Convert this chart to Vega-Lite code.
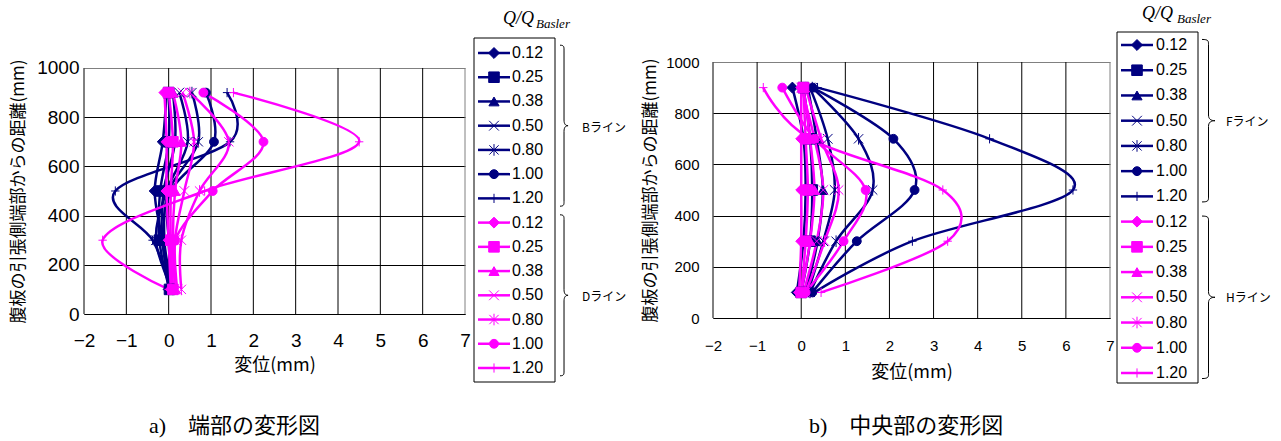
{
  "$schema": "https://vega.github.io/schema/vega-lite/v6.json",
  "autosize": {"type": "none"},
  "padding": {"left": 84, "top": 0, "right": 1197, "bottom": 441},
  "background": "white",
  "bounds": "flush",
  "spacing": 0,
  "config": {"view": {"stroke": null}, "font": "Liberation Sans"},
  "datasets": {
    "end": [
      {"line": "B", "q": "0.12", "y": 100, "x": 0.0}, {"line": "B", "q": "0.12", "y": 300, "x": -0.15}, {"line": "B", "q": "0.12", "y": 500, "x": -0.33}, {"line": "B", "q": "0.12", "y": 700, "x": -0.14}, {"line": "B", "q": "0.12", "y": 900, "x": -0.05},
      {"line": "B", "q": "0.25", "y": 100, "x": 0.02}, {"line": "B", "q": "0.25", "y": 300, "x": -0.22}, {"line": "B", "q": "0.25", "y": 500, "x": -0.2}, {"line": "B", "q": "0.25", "y": 700, "x": 0.0}, {"line": "B", "q": "0.25", "y": 900, "x": 0.0},
      {"line": "B", "q": "0.38", "y": 100, "x": 0.05}, {"line": "B", "q": "0.38", "y": 300, "x": -0.15}, {"line": "B", "q": "0.38", "y": 500, "x": -0.12}, {"line": "B", "q": "0.38", "y": 700, "x": 0.15}, {"line": "B", "q": "0.38", "y": 900, "x": 0.1},
      {"line": "B", "q": "0.50", "y": 100, "x": 0.08}, {"line": "B", "q": "0.50", "y": 300, "x": -0.3}, {"line": "B", "q": "0.50", "y": 500, "x": -0.05}, {"line": "B", "q": "0.50", "y": 700, "x": 0.45}, {"line": "B", "q": "0.50", "y": 900, "x": 0.25},
      {"line": "B", "q": "0.80", "y": 100, "x": 0.1}, {"line": "B", "q": "0.80", "y": 300, "x": -0.1}, {"line": "B", "q": "0.80", "y": 500, "x": 0.0}, {"line": "B", "q": "0.80", "y": 700, "x": 0.7}, {"line": "B", "q": "0.80", "y": 900, "x": 0.55},
      {"line": "B", "q": "1.00", "y": 100, "x": 0.1}, {"line": "B", "q": "1.00", "y": 300, "x": 0.0}, {"line": "B", "q": "1.00", "y": 500, "x": 0.05}, {"line": "B", "q": "1.00", "y": 700, "x": 1.07}, {"line": "B", "q": "1.00", "y": 900, "x": 0.88},
      {"line": "B", "q": "1.20", "y": 100, "x": 0.05}, {"line": "B", "q": "1.20", "y": 300, "x": -0.38}, {"line": "B", "q": "1.20", "y": 500, "x": -1.26}, {"line": "B", "q": "1.20", "y": 700, "x": 1.45}, {"line": "B", "q": "1.20", "y": 900, "x": 1.38},
      {"line": "D", "q": "0.12", "y": 100, "x": 0.05}, {"line": "D", "q": "0.12", "y": 300, "x": 0.0}, {"line": "D", "q": "0.12", "y": 500, "x": -0.05}, {"line": "D", "q": "0.12", "y": 700, "x": -0.05}, {"line": "D", "q": "0.12", "y": 900, "x": -0.1},
      {"line": "D", "q": "0.25", "y": 100, "x": 0.1}, {"line": "D", "q": "0.25", "y": 300, "x": 0.05}, {"line": "D", "q": "0.25", "y": 500, "x": 0.05}, {"line": "D", "q": "0.25", "y": 700, "x": 0.1}, {"line": "D", "q": "0.25", "y": 900, "x": 0.0},
      {"line": "D", "q": "0.38", "y": 100, "x": 0.15}, {"line": "D", "q": "0.38", "y": 300, "x": 0.1}, {"line": "D", "q": "0.38", "y": 500, "x": 0.15}, {"line": "D", "q": "0.38", "y": 700, "x": 0.3}, {"line": "D", "q": "0.38", "y": 900, "x": 0.1},
      {"line": "D", "q": "0.50", "y": 100, "x": 0.2}, {"line": "D", "q": "0.50", "y": 300, "x": 0.15}, {"line": "D", "q": "0.50", "y": 500, "x": 0.37}, {"line": "D", "q": "0.50", "y": 700, "x": 0.6}, {"line": "D", "q": "0.50", "y": 900, "x": 0.33},
      {"line": "D", "q": "0.80", "y": 100, "x": 0.3}, {"line": "D", "q": "0.80", "y": 300, "x": 0.3}, {"line": "D", "q": "0.80", "y": 500, "x": 0.73}, {"line": "D", "q": "0.80", "y": 700, "x": 1.42}, {"line": "D", "q": "0.80", "y": 900, "x": 0.5},
      {"line": "D", "q": "1.00", "y": 100, "x": 0.1}, {"line": "D", "q": "1.00", "y": 300, "x": 0.15}, {"line": "D", "q": "1.00", "y": 500, "x": 1.04}, {"line": "D", "q": "1.00", "y": 700, "x": 2.24}, {"line": "D", "q": "1.00", "y": 900, "x": 0.82},
      {"line": "D", "q": "1.20", "y": 100, "x": 0.0}, {"line": "D", "q": "1.20", "y": 300, "x": -1.56}, {"line": "D", "q": "1.20", "y": 500, "x": 0.85}, {"line": "D", "q": "1.20", "y": 700, "x": 4.5}, {"line": "D", "q": "1.20", "y": 900, "x": 1.53}
    ],
    "mid": [
      {"line": "F", "q": "0.12", "y": 100, "x": -0.1}, {"line": "F", "q": "0.12", "y": 300, "x": 0.05}, {"line": "F", "q": "0.12", "y": 500, "x": 0.1}, {"line": "F", "q": "0.12", "y": 700, "x": 0.05}, {"line": "F", "q": "0.12", "y": 900, "x": -0.2},
      {"line": "F", "q": "0.25", "y": 100, "x": 0.0}, {"line": "F", "q": "0.25", "y": 300, "x": 0.2}, {"line": "F", "q": "0.25", "y": 500, "x": 0.25}, {"line": "F", "q": "0.25", "y": 700, "x": 0.2}, {"line": "F", "q": "0.25", "y": 900, "x": 0.05},
      {"line": "F", "q": "0.38", "y": 100, "x": 0.1}, {"line": "F", "q": "0.38", "y": 300, "x": 0.37}, {"line": "F", "q": "0.38", "y": 500, "x": 0.49}, {"line": "F", "q": "0.38", "y": 700, "x": 0.35}, {"line": "F", "q": "0.38", "y": 900, "x": 0.15},
      {"line": "F", "q": "0.50", "y": 100, "x": 0.15}, {"line": "F", "q": "0.50", "y": 300, "x": 0.5}, {"line": "F", "q": "0.50", "y": 500, "x": 0.76}, {"line": "F", "q": "0.50", "y": 700, "x": 0.6}, {"line": "F", "q": "0.50", "y": 900, "x": 0.2},
      {"line": "F", "q": "0.80", "y": 100, "x": 0.2}, {"line": "F", "q": "0.80", "y": 300, "x": 0.79}, {"line": "F", "q": "0.80", "y": 500, "x": 1.62}, {"line": "F", "q": "0.80", "y": 700, "x": 1.3}, {"line": "F", "q": "0.80", "y": 900, "x": 0.25},
      {"line": "F", "q": "1.00", "y": 100, "x": 0.25}, {"line": "F", "q": "1.00", "y": 300, "x": 1.26}, {"line": "F", "q": "1.00", "y": 500, "x": 2.57}, {"line": "F", "q": "1.00", "y": 700, "x": 2.09}, {"line": "F", "q": "1.00", "y": 900, "x": 0.26},
      {"line": "F", "q": "1.20", "y": 100, "x": 0.3}, {"line": "F", "q": "1.20", "y": 300, "x": 2.52}, {"line": "F", "q": "1.20", "y": 500, "x": 6.16}, {"line": "F", "q": "1.20", "y": 700, "x": 4.27}, {"line": "F", "q": "1.20", "y": 900, "x": 0.37},
      {"line": "H", "q": "0.12", "y": 100, "x": -0.05}, {"line": "H", "q": "0.12", "y": 300, "x": 0.0}, {"line": "H", "q": "0.12", "y": 500, "x": 0.0}, {"line": "H", "q": "0.12", "y": 700, "x": 0.0}, {"line": "H", "q": "0.12", "y": 900, "x": 0.0},
      {"line": "H", "q": "0.25", "y": 100, "x": 0.0}, {"line": "H", "q": "0.25", "y": 300, "x": 0.1}, {"line": "H", "q": "0.25", "y": 500, "x": 0.15}, {"line": "H", "q": "0.25", "y": 700, "x": 0.1}, {"line": "H", "q": "0.25", "y": 900, "x": 0.05},
      {"line": "H", "q": "0.38", "y": 100, "x": 0.0}, {"line": "H", "q": "0.38", "y": 300, "x": 0.2}, {"line": "H", "q": "0.38", "y": 500, "x": 0.3}, {"line": "H", "q": "0.38", "y": 700, "x": 0.2}, {"line": "H", "q": "0.38", "y": 900, "x": 0.05},
      {"line": "H", "q": "0.50", "y": 100, "x": 0.05}, {"line": "H", "q": "0.50", "y": 300, "x": 0.35}, {"line": "H", "q": "0.50", "y": 500, "x": 0.5}, {"line": "H", "q": "0.50", "y": 700, "x": 0.3}, {"line": "H", "q": "0.50", "y": 900, "x": 0.0},
      {"line": "H", "q": "0.80", "y": 100, "x": 0.1}, {"line": "H", "q": "0.80", "y": 300, "x": 0.53}, {"line": "H", "q": "0.80", "y": 500, "x": 0.85}, {"line": "H", "q": "0.80", "y": 700, "x": 0.45}, {"line": "H", "q": "0.80", "y": 900, "x": 0.1},
      {"line": "H", "q": "1.00", "y": 100, "x": 0.1}, {"line": "H", "q": "1.00", "y": 300, "x": 0.96}, {"line": "H", "q": "1.00", "y": 500, "x": 1.46}, {"line": "H", "q": "1.00", "y": 700, "x": 0.3}, {"line": "H", "q": "1.00", "y": 900, "x": -0.43},
      {"line": "H", "q": "1.20", "y": 100, "x": 0.45}, {"line": "H", "q": "1.20", "y": 300, "x": 3.32}, {"line": "H", "q": "1.20", "y": 500, "x": 3.21}, {"line": "H", "q": "1.20", "y": 700, "x": 0.2}, {"line": "H", "q": "1.20", "y": 900, "x": -0.86}
    ],
    "legend_end": [
      {"line": "B", "q": "0.12", "key": "B 0.12", "group": "Bライン"}, {"line": "B", "q": "0.25", "key": "B 0.25", "group": "Bライン"},
      {"line": "B", "q": "0.38", "key": "B 0.38", "group": "Bライン"}, {"line": "B", "q": "0.50", "key": "B 0.50", "group": "Bライン"},
      {"line": "B", "q": "0.80", "key": "B 0.80", "group": "Bライン"}, {"line": "B", "q": "1.00", "key": "B 1.00", "group": "Bライン"},
      {"line": "B", "q": "1.20", "key": "B 1.20", "group": "Bライン"},
      {"line": "D", "q": "0.12", "key": "D 0.12", "group": "Dライン"}, {"line": "D", "q": "0.25", "key": "D 0.25", "group": "Dライン"},
      {"line": "D", "q": "0.38", "key": "D 0.38", "group": "Dライン"}, {"line": "D", "q": "0.50", "key": "D 0.50", "group": "Dライン"},
      {"line": "D", "q": "0.80", "key": "D 0.80", "group": "Dライン"}, {"line": "D", "q": "1.00", "key": "D 1.00", "group": "Dライン"},
      {"line": "D", "q": "1.20", "key": "D 1.20", "group": "Dライン"}
    ],
    "legend_mid": [
      {"line": "F", "q": "0.12", "key": "F 0.12", "group": "Fライン"}, {"line": "F", "q": "0.25", "key": "F 0.25", "group": "Fライン"},
      {"line": "F", "q": "0.38", "key": "F 0.38", "group": "Fライン"}, {"line": "F", "q": "0.50", "key": "F 0.50", "group": "Fライン"},
      {"line": "F", "q": "0.80", "key": "F 0.80", "group": "Fライン"}, {"line": "F", "q": "1.00", "key": "F 1.00", "group": "Fライン"},
      {"line": "F", "q": "1.20", "key": "F 1.20", "group": "Fライン"},
      {"line": "H", "q": "0.12", "key": "H 0.12", "group": "Hライン"}, {"line": "H", "q": "0.25", "key": "H 0.25", "group": "Hライン"},
      {"line": "H", "q": "0.38", "key": "H 0.38", "group": "Hライン"}, {"line": "H", "q": "0.50", "key": "H 0.50", "group": "Hライン"},
      {"line": "H", "q": "0.80", "key": "H 0.80", "group": "Hライン"}, {"line": "H", "q": "1.00", "key": "H 1.00", "group": "Hライン"},
      {"line": "H", "q": "1.20", "key": "H 1.20", "group": "Hライン"}
    ]
  },
  "hconcat": [
    {
      "width": 381,
      "height": 314,
      "title": {"text": "a)　端部の変形図", "orient": "bottom", "anchor": "start", "frame": "group", "dx": 65, "offset": 42, "baseline": "top", "font": "Liberation Serif, Noto Sans CJK JP", "fontSize": 22, "fontWeight": "normal", "color": "#000000"},
      "layer": [
        {
          "data": {"values": [{"v": -2}, {"v": -1}, {"v": 0}, {"v": 1}, {"v": 2}, {"v": 3}, {"v": 4}, {"v": 5}, {"v": 6}, {"v": 7}]},
          "mark": {"type": "rule", "strokeWidth": 1},
          "encoding": {
            "x": {"field": "v", "type": "quantitative", "scale": {"domain": [-2, 7], "nice": false, "zero": false},
              "axis": {"values": [-2, -1, 0, 1, 2, 3, 4, 5, 6, 7], "format": "d", "grid": false, "ticks": false, "tickSize": 0, "domain": true, "domainColor": "#000000", "domainWidth": 1,
                "labelFont": "Liberation Sans", "labelFontSize": 19, "labelColor": "#000000", "labelPadding": 17, "labelFlush": false, "labelOverlap": false, "labelBound": false,
                "title": "変位(mm)", "titleFont": "Noto Sans CJK JP", "titleFontSize": 18, "titleFontWeight": "normal", "titleColor": "#000000", "titleY": 51, "titleBaseline": "middle"}},
            "y": {"datum": 0, "type": "quantitative", "scale": {"domain": [0, 1276.42], "nice": false, "zero": false},
              "axis": {"values": [0, 100, 200, 300, 400, 500, 600, 700, 800, 900, 1000], "format": "d", "grid": true,
                "gridColor": {"condition": {"test": "datum.value === 1000", "value": "#808080"}, "value": "#000000"}, "gridWidth": 1,
                "ticks": false, "tickSize": 0, "domain": false,
                "labelFont": "Liberation Sans", "labelFontSize": 19, "labelColor": "#000000", "labelPadding": 5, "labelFlush": false, "labelOverlap": false, "labelBound": false,
                "title": "腹板の引張側端部からの距離(mm)", "titleFont": "Noto Sans CJK JP", "titleFontSize": 17, "titleFontWeight": "normal", "titleColor": "#000000",
                "titleX": -66, "titleY": 191, "titleAngle": -90, "titleBaseline": "middle", "titleAlign": "center"}},
            "y2": {"datum": 1000},
            "color": {"condition": {"test": "datum.v === 7", "value": "#808080"}, "value": "#000000"}
          }
        },
        {
          "data": {"name": "end"},
          "mark": {"type": "line", "interpolate": "cardinal", "strokeWidth": 2.5},
          "encoding": {
            "x": {"field": "x", "type": "quantitative", "scale": {"domain": [-2, 7], "nice": false, "zero": false}},
            "y": {"field": "y", "type": "quantitative", "scale": {"domain": [0, 1276.42], "nice": false, "zero": false}},
            "detail": {"field": "q"},
            "stroke": {"field": "line", "type": "nominal", "scale": {"domain": ["B", "D"], "range": ["#000080", "#FF00FF"]}, "legend": null},
            "order": {"field": "y", "type": "quantitative"}
          }
        },
        {
          "data": {"name": "end"},
          "mark": {"type": "point", "filled": true, "strokeWidth": 1, "opacity": 1},
          "encoding": {
            "x": {"field": "x", "type": "quantitative", "scale": {"domain": [-2, 7], "nice": false, "zero": false}},
            "y": {"field": "y", "type": "quantitative", "scale": {"domain": [0, 1276.42], "nice": false, "zero": false}},
            "shape": {"field": "q", "type": "nominal", "scale": {"domain": ["0.12", "0.25", "0.38", "0.50", "0.80", "1.00", "1.20"], "range": ["diamond", "square", "triangle-up", "M-1,-1L1,1M-1,1L1,-1", "M-1,-1L1,1M-1,1L1,-1M0,-1.25L0,1.25", "circle", "M0,-1.1L0,1.1M-1,0L1,0"]}, "legend": null},
            "size": {"field": "q", "type": "ordinal", "scale": {"domain": ["0.12", "0.25", "0.38", "0.50", "0.80", "1.00", "1.20"], "range": [120, 70, 90, 64, 64, 100, 90]}, "legend": null},
            "fill": {"field": "line", "type": "nominal", "scale": {"domain": ["B", "D"], "range": ["#000080", "#FF00FF"]}, "legend": null},
            "stroke": {"field": "line", "type": "nominal", "scale": {"domain": ["B", "D"], "range": ["#000080", "#FF00FF"]}, "legend": null}
          }
        }
      ]
    },
    {
      "width": 248,
      "height": 441,
      "resolve": {"scale": {"y": "independent"}},
      "layer": [
        {
          "data": {"values": [{"item": "frame"}]},
          "mark": {"type": "rect", "fill": "white", "stroke": "#000000", "strokeWidth": 1},
          "encoding": {
            "x": {"datum": 9, "type": "quantitative", "scale": {"domain": [0, 248], "range": [0, 248], "nice": false, "zero": false}, "axis": null},
            "x2": {"datum": 90},
            "y": {"datum": 38, "type": "quantitative", "scale": {"domain": [0, 441], "range": [0, 441], "nice": false, "zero": false}, "axis": null},
            "y2": {"datum": 382}
          }
        },
        {
          "data": {"values": [{"t": "Q/Q"}]},
          "mark": {"type": "text", "font": "Liberation Serif", "fontStyle": "italic", "fontSize": 18, "align": "left", "baseline": "alphabetic", "color": "#000000"},
          "encoding": {
            "x": {"datum": 38, "type": "quantitative", "scale": {"domain": [0, 248], "range": [0, 248], "nice": false, "zero": false}, "axis": null},
            "y": {"datum": 24, "type": "quantitative", "scale": {"domain": [0, 441], "range": [0, 441], "nice": false, "zero": false}, "axis": null},
            "text": {"field": "t"}
          }
        },
        {
          "data": {"values": [{"t": "Basler"}]},
          "mark": {"type": "text", "font": "Liberation Serif", "fontStyle": "italic", "fontSize": 13, "align": "left", "baseline": "alphabetic", "color": "#000000"},
          "encoding": {
            "x": {"datum": 71, "type": "quantitative", "scale": {"domain": [0, 248], "range": [0, 248], "nice": false, "zero": false}, "axis": null},
            "y": {"datum": 28, "type": "quantitative", "scale": {"domain": [0, 441], "range": [0, 441], "nice": false, "zero": false}, "axis": null},
            "text": {"field": "t"}
          }
        },
        {
          "data": {"name": "legend_end"},
          "mark": {"type": "rule", "strokeWidth": 2.5},
          "encoding": {
            "x": {"datum": 13, "type": "quantitative", "scale": {"domain": [0, 248], "range": [0, 248], "nice": false, "zero": false}, "axis": null},
            "x2": {"datum": 45},
            "y": {"field": "key", "type": "nominal", "scale": {"type": "point", "domain": ["B 0.12", "B 0.25", "B 0.38", "B 0.50", "B 0.80", "B 1.00", "B 1.20", "D 0.12", "D 0.25", "D 0.38", "D 0.50", "D 0.80", "D 1.00", "D 1.20"], "range": [53, 368], "padding": 0}, "axis": null},
            "stroke": {"field": "line", "type": "nominal", "scale": {"domain": ["B", "D"], "range": ["#000080", "#FF00FF"]}, "legend": null}
          }
        },
        {
          "data": {"name": "legend_end"},
          "mark": {"type": "point", "filled": true, "strokeWidth": 1, "opacity": 1},
          "encoding": {
            "x": {"datum": 29, "type": "quantitative", "scale": {"domain": [0, 248], "range": [0, 248], "nice": false, "zero": false}, "axis": null},
            "y": {"field": "key", "type": "nominal", "scale": {"type": "point", "domain": ["B 0.12", "B 0.25", "B 0.38", "B 0.50", "B 0.80", "B 1.00", "B 1.20", "D 0.12", "D 0.25", "D 0.38", "D 0.50", "D 0.80", "D 1.00", "D 1.20"], "range": [53, 368], "padding": 0}, "axis": null},
            "shape": {"field": "q", "type": "nominal", "scale": {"domain": ["0.12", "0.25", "0.38", "0.50", "0.80", "1.00", "1.20"], "range": ["diamond", "square", "triangle-up", "M-1,-1L1,1M-1,1L1,-1", "M-1,-1L1,1M-1,1L1,-1M0,-1.25L0,1.25", "circle", "M0,-1.1L0,1.1M-1,0L1,0"]}, "legend": null},
            "size": {"field": "q", "type": "ordinal", "scale": {"domain": ["0.12", "0.25", "0.38", "0.50", "0.80", "1.00", "1.20"], "range": [120, 70, 90, 64, 64, 100, 90]}, "legend": null},
            "fill": {"field": "line", "type": "nominal", "scale": {"domain": ["B", "D"], "range": ["#000080", "#FF00FF"]}, "legend": null},
            "stroke": {"field": "line", "type": "nominal", "scale": {"domain": ["B", "D"], "range": ["#000080", "#FF00FF"]}, "legend": null}
          }
        },
        {
          "data": {"name": "legend_end"},
          "mark": {"type": "text", "font": "Liberation Sans", "fontSize": 16, "align": "left", "baseline": "middle", "color": "#000000"},
          "encoding": {
            "x": {"datum": 47, "type": "quantitative", "scale": {"domain": [0, 248], "range": [0, 248], "nice": false, "zero": false}, "axis": null},
            "y": {"field": "key", "type": "nominal", "scale": {"type": "point", "domain": ["B 0.12", "B 0.25", "B 0.38", "B 0.50", "B 0.80", "B 1.00", "B 1.20", "D 0.12", "D 0.25", "D 0.38", "D 0.50", "D 0.80", "D 1.00", "D 1.20"], "range": [53, 368], "padding": 0}, "axis": null},
            "text": {"field": "q"}
          }
        },
        {
          "data": {"name": "legend_end"},
          "transform": [{"filter": "datum.q === '0.50'"}],
          "mark": {"type": "point", "shape": "M0,-1C0.05,-1 0.05,-0.98 0.05,-0.94L0.05,-0.07C0.05,-0.02 0.07,0 0.1,0C0.07,0 0.05,0.02 0.05,0.07L0.05,0.94C0.05,0.98 0.05,1 0,1", "size": 25921, "filled": false, "stroke": "#000000", "strokeWidth": 1, "opacity": 1},
          "encoding": {
            "x": {"datum": 95, "type": "quantitative", "scale": {"domain": [0, 248], "range": [0, 248], "nice": false, "zero": false}, "axis": null},
            "y": {"field": "key", "type": "nominal", "scale": {"type": "point", "domain": ["B 0.12", "B 0.25", "B 0.38", "B 0.50", "B 0.80", "B 1.00", "B 1.20", "D 0.12", "D 0.25", "D 0.38", "D 0.50", "D 0.80", "D 1.00", "D 1.20"], "range": [53, 368], "padding": 0}, "axis": null}
          }
        },
        {
          "data": {"name": "legend_end"},
          "transform": [{"filter": "datum.q === '0.50'"}],
          "mark": {"type": "text", "font": "Noto Sans CJK JP", "fontSize": 12, "align": "left", "baseline": "middle", "color": "#000000", "dy": 2},
          "encoding": {
            "x": {"datum": 117, "type": "quantitative", "scale": {"domain": [0, 248], "range": [0, 248], "nice": false, "zero": false}, "axis": null},
            "y": {"field": "key", "type": "nominal", "scale": {"type": "point", "domain": ["B 0.12", "B 0.25", "B 0.38", "B 0.50", "B 0.80", "B 1.00", "B 1.20", "D 0.12", "D 0.25", "D 0.38", "D 0.50", "D 0.80", "D 1.00", "D 1.20"], "range": [53, 368], "padding": 0}, "axis": null},
            "text": {"field": "group"}
          }
        }
      ]
    },
    {
      "width": 397,
      "height": 318,
      "title": {"text": "b)　中央部の変形図", "orient": "bottom", "anchor": "start", "frame": "group", "dx": 96, "offset": 35, "baseline": "top", "font": "Liberation Serif, Noto Sans CJK JP", "fontSize": 22, "fontWeight": "normal", "color": "#000000"},
      "layer": [
        {
          "data": {"values": [{"v": -2}, {"v": -1}, {"v": 0}, {"v": 1}, {"v": 2}, {"v": 3}, {"v": 4}, {"v": 5}, {"v": 6}, {"v": 7}]},
          "mark": {"type": "rule", "strokeWidth": 1},
          "encoding": {
            "x": {"field": "v", "type": "quantitative", "scale": {"domain": [-2, 7], "nice": false, "zero": false},
              "axis": {"values": [-2, -1, 0, 1, 2, 3, 4, 5, 6, 7], "format": "d", "grid": false, "ticks": false, "tickSize": 0, "domain": true, "domainColor": "#000000", "domainWidth": 1,
                "labelFont": "Liberation Sans", "labelFontSize": 15, "labelColor": "#000000", "labelPadding": 20, "labelFlush": false, "labelOverlap": false, "labelBound": false,
                "title": "変位(mm)", "titleFont": "Noto Sans CJK JP", "titleFontSize": 18, "titleFontWeight": "normal", "titleColor": "#000000", "titleY": 54, "titleBaseline": "middle"}},
            "y": {"datum": 0, "type": "quantitative", "scale": {"domain": [0, 1242.19], "nice": false, "zero": false},
              "axis": {"values": [0, 100, 200, 300, 400, 500, 600, 700, 800, 900, 1000], "format": "d", "grid": true,
                "gridColor": {"condition": {"test": "datum.value === 1000", "value": "#808080"}, "value": "#000000"}, "gridWidth": 1,
                "ticks": false, "tickSize": 0, "domain": false,
                "labelFont": "Liberation Sans", "labelFontSize": 15, "labelColor": "#000000", "labelPadding": 14, "labelFlush": false, "labelOverlap": false, "labelBound": false,
                "title": "腹板の引張側端部からの距離(mm)", "titleFont": "Noto Sans CJK JP", "titleFontSize": 17, "titleFontWeight": "normal", "titleColor": "#000000",
                "titleX": -63, "titleY": 190, "titleAngle": -90, "titleBaseline": "middle", "titleAlign": "center"}},
            "y2": {"datum": 1000},
            "color": {"condition": {"test": "datum.v === 7", "value": "#808080"}, "value": "#000000"}
          }
        },
        {
          "data": {"name": "mid"},
          "mark": {"type": "line", "interpolate": "cardinal", "strokeWidth": 2.5},
          "encoding": {
            "x": {"field": "x", "type": "quantitative", "scale": {"domain": [-2, 7], "nice": false, "zero": false}},
            "y": {"field": "y", "type": "quantitative", "scale": {"domain": [0, 1242.19], "nice": false, "zero": false}},
            "detail": {"field": "q"},
            "stroke": {"field": "line", "type": "nominal", "scale": {"domain": ["F", "H"], "range": ["#000080", "#FF00FF"]}, "legend": null},
            "order": {"field": "y", "type": "quantitative"}
          }
        },
        {
          "data": {"name": "mid"},
          "mark": {"type": "point", "filled": true, "strokeWidth": 1, "opacity": 1},
          "encoding": {
            "x": {"field": "x", "type": "quantitative", "scale": {"domain": [-2, 7], "nice": false, "zero": false}},
            "y": {"field": "y", "type": "quantitative", "scale": {"domain": [0, 1242.19], "nice": false, "zero": false}},
            "shape": {"field": "q", "type": "nominal", "scale": {"domain": ["0.12", "0.25", "0.38", "0.50", "0.80", "1.00", "1.20"], "range": ["diamond", "square", "triangle-up", "M-1,-1L1,1M-1,1L1,-1", "M-1,-1L1,1M-1,1L1,-1M0,-1.25L0,1.25", "circle", "M0,-1.1L0,1.1M-1,0L1,0"]}, "legend": null},
            "size": {"field": "q", "type": "ordinal", "scale": {"domain": ["0.12", "0.25", "0.38", "0.50", "0.80", "1.00", "1.20"], "range": [120, 70, 90, 64, 64, 100, 90]}, "legend": null},
            "fill": {"field": "line", "type": "nominal", "scale": {"domain": ["F", "H"], "range": ["#000080", "#FF00FF"]}, "legend": null},
            "stroke": {"field": "line", "type": "nominal", "scale": {"domain": ["F", "H"], "range": ["#000080", "#FF00FF"]}, "legend": null}
          }
        }
      ]
    },
    {
      "width": 171,
      "height": 441,
      "resolve": {"scale": {"y": "independent"}},
      "layer": [
        {
          "data": {"values": [{"item": "frame"}]},
          "mark": {"type": "rect", "fill": "white", "stroke": "#000000", "strokeWidth": 1},
          "encoding": {
            "x": {"datum": 7, "type": "quantitative", "scale": {"domain": [0, 171], "range": [0, 171], "nice": false, "zero": false}, "axis": null},
            "x2": {"datum": 88},
            "y": {"datum": 32, "type": "quantitative", "scale": {"domain": [0, 441], "range": [0, 441], "nice": false, "zero": false}, "axis": null},
            "y2": {"datum": 383}
          }
        },
        {
          "data": {"values": [{"t": "Q/Q"}]},
          "mark": {"type": "text", "font": "Liberation Serif", "fontStyle": "italic", "fontSize": 18, "align": "left", "baseline": "alphabetic", "color": "#000000"},
          "encoding": {
            "x": {"datum": 32, "type": "quantitative", "scale": {"domain": [0, 171], "range": [0, 171], "nice": false, "zero": false}, "axis": null},
            "y": {"datum": 19, "type": "quantitative", "scale": {"domain": [0, 441], "range": [0, 441], "nice": false, "zero": false}, "axis": null},
            "text": {"field": "t"}
          }
        },
        {
          "data": {"values": [{"t": "Basler"}]},
          "mark": {"type": "text", "font": "Liberation Serif", "fontStyle": "italic", "fontSize": 13, "align": "left", "baseline": "alphabetic", "color": "#000000"},
          "encoding": {
            "x": {"datum": 67, "type": "quantitative", "scale": {"domain": [0, 171], "range": [0, 171], "nice": false, "zero": false}, "axis": null},
            "y": {"datum": 23, "type": "quantitative", "scale": {"domain": [0, 441], "range": [0, 441], "nice": false, "zero": false}, "axis": null},
            "text": {"field": "t"}
          }
        },
        {
          "data": {"name": "legend_mid"},
          "mark": {"type": "rule", "strokeWidth": 2.5},
          "encoding": {
            "x": {"datum": 11, "type": "quantitative", "scale": {"domain": [0, 171], "range": [0, 171], "nice": false, "zero": false}, "axis": null},
            "x2": {"datum": 43},
            "y": {"field": "key", "type": "nominal", "scale": {"type": "point", "domain": ["F 0.12", "F 0.25", "F 0.38", "F 0.50", "F 0.80", "F 1.00", "F 1.20", "H 0.12", "H 0.25", "H 0.38", "H 0.50", "H 0.80", "H 1.00", "H 1.20"], "range": [45, 373], "padding": 0}, "axis": null},
            "stroke": {"field": "line", "type": "nominal", "scale": {"domain": ["F", "H"], "range": ["#000080", "#FF00FF"]}, "legend": null}
          }
        },
        {
          "data": {"name": "legend_mid"},
          "mark": {"type": "point", "filled": true, "strokeWidth": 1, "opacity": 1},
          "encoding": {
            "x": {"datum": 27, "type": "quantitative", "scale": {"domain": [0, 171], "range": [0, 171], "nice": false, "zero": false}, "axis": null},
            "y": {"field": "key", "type": "nominal", "scale": {"type": "point", "domain": ["F 0.12", "F 0.25", "F 0.38", "F 0.50", "F 0.80", "F 1.00", "F 1.20", "H 0.12", "H 0.25", "H 0.38", "H 0.50", "H 0.80", "H 1.00", "H 1.20"], "range": [45, 373], "padding": 0}, "axis": null},
            "shape": {"field": "q", "type": "nominal", "scale": {"domain": ["0.12", "0.25", "0.38", "0.50", "0.80", "1.00", "1.20"], "range": ["diamond", "square", "triangle-up", "M-1,-1L1,1M-1,1L1,-1", "M-1,-1L1,1M-1,1L1,-1M0,-1.25L0,1.25", "circle", "M0,-1.1L0,1.1M-1,0L1,0"]}, "legend": null},
            "size": {"field": "q", "type": "ordinal", "scale": {"domain": ["0.12", "0.25", "0.38", "0.50", "0.80", "1.00", "1.20"], "range": [120, 70, 90, 64, 64, 100, 90]}, "legend": null},
            "fill": {"field": "line", "type": "nominal", "scale": {"domain": ["F", "H"], "range": ["#000080", "#FF00FF"]}, "legend": null},
            "stroke": {"field": "line", "type": "nominal", "scale": {"domain": ["F", "H"], "range": ["#000080", "#FF00FF"]}, "legend": null}
          }
        },
        {
          "data": {"name": "legend_mid"},
          "mark": {"type": "text", "font": "Liberation Sans", "fontSize": 16, "align": "left", "baseline": "middle", "color": "#000000"},
          "encoding": {
            "x": {"datum": 46, "type": "quantitative", "scale": {"domain": [0, 171], "range": [0, 171], "nice": false, "zero": false}, "axis": null},
            "y": {"field": "key", "type": "nominal", "scale": {"type": "point", "domain": ["F 0.12", "F 0.25", "F 0.38", "F 0.50", "F 0.80", "F 1.00", "F 1.20", "H 0.12", "H 0.25", "H 0.38", "H 0.50", "H 0.80", "H 1.00", "H 1.20"], "range": [45, 373], "padding": 0}, "axis": null},
            "text": {"field": "q"}
          }
        },
        {
          "data": {"name": "legend_mid"},
          "transform": [{"filter": "datum.q === '0.50'"}],
          "mark": {"type": "point", "shape": "M0,-1C0.08,-1 0.08,-0.98 0.08,-0.94L0.08,-0.07C0.08,-0.02 0.11,0 0.16,0C0.11,0 0.08,0.02 0.08,0.07L0.08,0.94C0.08,0.98 0.08,1 0,1", "size": 26406, "filled": false, "stroke": "#000000", "strokeWidth": 1, "opacity": 1},
          "encoding": {
            "x": {"datum": 92, "type": "quantitative", "scale": {"domain": [0, 171], "range": [0, 171], "nice": false, "zero": false}, "axis": null},
            "y": {"field": "key", "type": "nominal", "scale": {"type": "point", "domain": ["F 0.12", "F 0.25", "F 0.38", "F 0.50", "F 0.80", "F 1.00", "F 1.20", "H 0.12", "H 0.25", "H 0.38", "H 0.50", "H 0.80", "H 1.00", "H 1.20"], "range": [45, 373], "padding": 0}, "axis": null}
          }
        },
        {
          "data": {"name": "legend_mid"},
          "transform": [{"filter": "datum.q === '0.50'"}],
          "mark": {"type": "text", "font": "Noto Sans CJK JP", "fontSize": 12, "align": "left", "baseline": "middle", "color": "#000000", "dy": 1},
          "encoding": {
            "x": {"datum": 116, "type": "quantitative", "scale": {"domain": [0, 171], "range": [0, 171], "nice": false, "zero": false}, "axis": null},
            "y": {"field": "key", "type": "nominal", "scale": {"type": "point", "domain": ["F 0.12", "F 0.25", "F 0.38", "F 0.50", "F 0.80", "F 1.00", "F 1.20", "H 0.12", "H 0.25", "H 0.38", "H 0.50", "H 0.80", "H 1.00", "H 1.20"], "range": [45, 373], "padding": 0}, "axis": null},
            "text": {"field": "group"}
          }
        }
      ]
    }
  ]
}
